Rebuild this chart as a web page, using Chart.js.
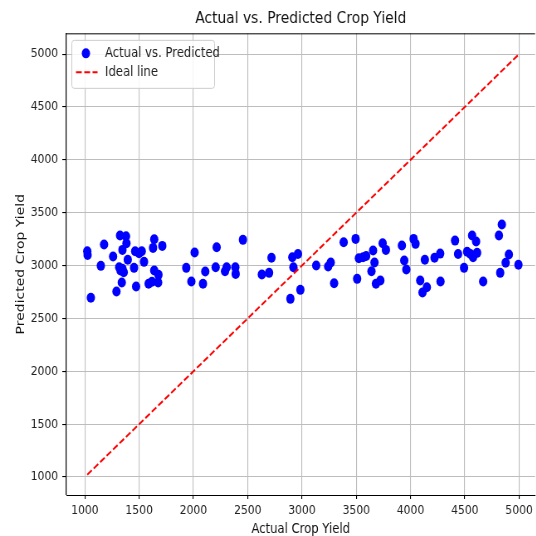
<!DOCTYPE html>
<html>
<head>
<meta charset="utf-8">
<script src="https://cdn.jsdelivr.net/npm/chart.js@4/dist/chart.umd.min.js"></script>
<style>
  html, body { margin: 0; padding: 0; background: #fff; overflow: hidden; }
  /* the reference is squeezed horizontally, so draw wider and squeeze */
  #wrap { width: 646px; height: 536px; transform: scaleX(0.83); transform-origin: 0 0; }
  canvas { display: block; }
</style>
</head>
<body>
<div id="wrap"><canvas id="yieldChart" width="646" height="536"></canvas></div>
<script>
// actual yield (x) and predicted yield (y)
const actualYield = [
  1022, 1025, 1055, 1147, 1177, 1260, 1291, 1324, 1379, 1383,
  1346, 1395, 1316, 1346, 1358, 1328, 1340, 1453, 1463, 1524,
  1499, 1472, 1545, 1639, 1628, 1713, 1639, 1678, 1675, 1618,
  1587, 1934, 2011, 1981, 2088, 2109, 2214, 2205, 2291, 2306,
  2386, 2389, 2456, 2630, 2697, 2719, 2893, 2911, 2921, 2963,
  2985, 3131, 3241, 3265, 3296, 3384, 3494, 3524, 3563, 3591,
  3508, 3655, 3668, 3640, 3681, 3722, 3743, 3773, 3920, 3942,
  3961, 4028, 4046, 4132, 4089, 4150, 4110, 4221, 4273, 4276,
  4410, 4438, 4493, 4521, 4567, 4604, 4552, 4576, 4613, 4669,
  4814, 4841, 4826, 4906, 4876, 4994
];
const predictedYield = [
  3135, 3100, 2695, 2997, 3199, 3085, 2754, 3284, 3277, 3211,
  3148, 3054, 2984, 2969, 2937, 2953, 2839, 2978, 3135, 3135,
  3116, 2801, 3035, 3249, 3167, 3186, 2953, 2912, 2839, 2846,
  2827, 2978, 3123, 2849, 2827, 2943, 3173, 2984, 2946, 2984,
  2984, 2921, 3243, 2915, 2931, 3073, 2685, 3078, 2984, 3110,
  2770, 3000, 2991, 3028, 2833, 3220, 3252, 3069, 3078, 3090,
  2874, 3142, 3028, 2946, 2827, 2858, 3211, 3148, 3189, 3047,
  2962, 3252, 3205, 3054, 2858, 2795, 2745, 3073, 3113, 2849,
  3236, 3110, 2978, 3130, 3284, 3227, 3110, 3078, 3120, 2849,
  3284, 3388, 2931, 3104, 3026, 3007
];
const idealLine = [1022, 4994];
const tickValues = [1000, 1500, 2000, 2500, 3000, 3500, 4000, 4500, 5000];
const xRange = [830, 5147];
const yRange = [830, 5196];

const baseFont = "'DejaVu Sans', sans-serif";

const scatterPoints = actualYield.map((x, i) => ({ x: x, y: predictedYield[i] }));
const idealPoints = idealLine.map((v) => ({ x: v, y: v }));

// legend inside the plot (upper left) and the top edge of the frame
const frameAndLegend = {
  id: 'frameAndLegend',
  afterDraw(chart) {
    const ctx = chart.ctx;
    const area = chart.chartArea;
    ctx.save();
    ctx.strokeStyle = '#000';
    ctx.lineWidth = 1;
    ctx.beginPath();
    ctx.moveTo(area.left, area.top + 0.5);
    ctx.lineTo(area.right, area.top + 0.5);
    ctx.stroke();

    const bx = area.left + 6.5, by = area.top + 7, bw = 172, bh = 48;
    ctx.fillStyle = 'rgba(255,255,255,0.85)';
    ctx.strokeStyle = '#cccccc';
    ctx.beginPath();
    ctx.roundRect(bx, by, bw, bh, 3);
    ctx.fill();
    ctx.stroke();

    ctx.fillStyle = '#0000ff';
    ctx.beginPath();
    ctx.arc(bx + 17, by + 13, 5, 0, Math.PI * 2);
    ctx.fill();

    ctx.strokeStyle = '#ff0000';
    ctx.lineWidth = 2;
    ctx.setLineDash([7, 3]);
    ctx.beginPath();
    ctx.moveTo(bx + 5, by + 32);
    ctx.lineTo(bx + 31, by + 32);
    ctx.stroke();
    ctx.setLineDash([]);

    ctx.fillStyle = '#222';
    ctx.font = '14px ' + baseFont;
    ctx.textBaseline = 'middle';
    ctx.textAlign = 'left';
    ctx.fillText('Actual vs. Predicted', bx + 40, by + 13);
    ctx.fillText('Ideal line', bx + 40, by + 32);
    ctx.restore();
  }
};

const setTicks = (scale) => {
  scale.ticks = tickValues.map((v) => ({ value: v }));
};

new Chart(document.getElementById('yieldChart'), {
  type: 'scatter',
  data: {
    datasets: [
      {
        type: 'line',
        label: 'Ideal line',
        data: idealPoints,
        borderColor: '#ff0000',
        borderWidth: 2,
        borderDash: [7, 3],
        pointRadius: 0,
        fill: false,
        order: 0,
      },
      {
        label: 'Actual vs. Predicted',
        data: scatterPoints,
        backgroundColor: '#0000ff',
        borderColor: '#0000ff',
        borderWidth: 0,
        pointRadius: 5,
        order: 1,
      },
    ],
  },
  options: {
    responsive: false,
    animation: false,
    devicePixelRatio: 1,
    layout: { padding: 0, autoPadding: false },
    plugins: {
      legend: { display: false },
      tooltip: { enabled: false },
      title: {
        display: true,
        fullSize: false,
        text: 'Actual vs. Predicted Crop Yield',
        color: '#111',
        font: { family: baseFont, size: 16.7, weight: 'normal' },
        padding: { top: 9, bottom: 4.3 },
      },
    },
    scales: {
      x: {
        type: 'linear',
        min: xRange[0],
        max: xRange[1],
        afterBuildTicks: setTicks,
        afterFit: (scale) => { scale.height = 41; },
        grid: { color: '#bdbdbd', lineWidth: 1.1, tickColor: '#000', tickLength: 4 },
        border: { color: '#000', width: 1 },
        ticks: {
          color: '#222',
          font: { family: baseFont, size: 13 },
          padding: 4,
          maxRotation: 0,
          callback: (v) => String(v),
        },
        title: {
          display: true,
          text: 'Actual Crop Yield',
          color: '#111',
          font: { family: baseFont, size: 14, lineHeight: 1 },
          padding: { top: 0, bottom: 0 },
        },
      },
      y: {
        type: 'linear',
        min: yRange[0],
        max: yRange[1],
        afterBuildTicks: setTicks,
        afterFit: (scale) => { scale.width = 80; },
        grid: { color: '#bdbdbd', lineWidth: 1.1, tickColor: '#000', tickLength: 5 },
        border: { color: '#000', width: 1.2 },
        ticks: {
          color: '#222',
          font: { family: baseFont, size: 13 },
          padding: 5,
          callback: (v) => String(v),
        },
        title: {
          display: true,
          text: 'Predicted Crop Yield',
          color: '#111',
          font: { family: baseFont, size: 14 },
          padding: { top: 17, bottom: 0 },
        },
      },
    },
  },
  plugins: [frameAndLegend],
});
</script>
</body>
</html>
